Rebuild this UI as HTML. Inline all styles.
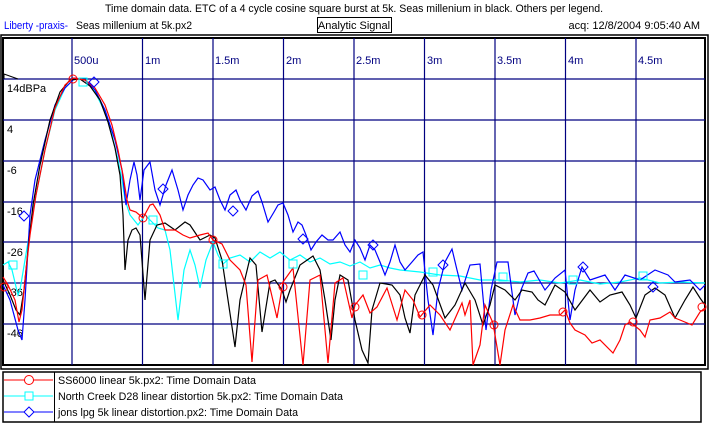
<!DOCTYPE html><html><head><style>body{margin:0;background:#fff}svg{display:block}text{font-family:"Liberation Sans",sans-serif;font-size:11px}</style></head><body>
<svg width="709" height="426" viewBox="0 0 709 426" xmlns="http://www.w3.org/2000/svg">
<rect width="709" height="426" fill="#fff"/>
<text x="354" y="12" text-anchor="middle" textLength="498" lengthAdjust="spacingAndGlyphs">Time domain data. ETC of a 4 cycle cosine square burst at 5k. Seas millenium in black. Others per legend.</text>
<text x="4" y="29" fill="#0000ff" textLength="64" lengthAdjust="spacingAndGlyphs">Liberty -praxis-</text>
<text x="76" y="29" textLength="116" lengthAdjust="spacingAndGlyphs">Seas millenium at 5k.px2</text>
<rect x="317.5" y="17.5" width="74" height="15" fill="none" stroke="#000"/>
<text x="354" y="29" text-anchor="middle">Analytic Signal</text>
<text x="700" y="29" text-anchor="end">acq: 12/8/2004 9:05:40 AM</text>
<rect x="1" y="35" width="707" height="334" fill="none" stroke="#000" stroke-width="1.5"/>
<rect x="3" y="38" width="702" height="327" fill="none" stroke="#000" stroke-width="2"/>
<g stroke="#000080" stroke-width="1.2">
<line x1="72" y1="38" x2="72" y2="365"/><line x1="142.5" y1="38" x2="142.5" y2="365"/><line x1="213" y1="38" x2="213" y2="365"/><line x1="283.5" y1="38" x2="283.5" y2="365"/><line x1="354" y1="38" x2="354" y2="365"/><line x1="424.5" y1="38" x2="424.5" y2="365"/><line x1="495" y1="38" x2="495" y2="365"/><line x1="565.5" y1="38" x2="565.5" y2="365"/><line x1="636" y1="38" x2="636" y2="365"/>
<line x1="3" y1="79" x2="705" y2="79"/><line x1="3" y1="120" x2="705" y2="120"/><line x1="3" y1="161" x2="705" y2="161"/><line x1="3" y1="202" x2="705" y2="202"/><line x1="3" y1="242" x2="705" y2="242"/><line x1="3" y1="283" x2="705" y2="283"/><line x1="3" y1="324" x2="705" y2="324"/>
</g>
<g fill="#000080"><text x="74" y="64">500u</text><text x="145" y="64">1m</text><text x="215" y="64">1.5m</text><text x="286" y="64">2m</text><text x="356" y="64">2.5m</text><text x="427" y="64">3m</text><text x="497" y="64">3.5m</text><text x="568" y="64">4m</text><text x="638" y="64">4.5m</text></g>
<g><text x="7" y="92">14dBPa</text><text x="7" y="133">4</text><text x="7" y="174">-6</text><text x="7" y="215">-16</text><text x="7" y="256">-26</text><text x="7" y="296">-36</text><text x="7" y="337">-46</text></g>
<path d="M4 74 L4 79 M4 74 L18 79" stroke="#000" fill="none"/>
<g fill="none" stroke-width="1.2">
<polyline stroke="#00ffff" points="3,265 8,262 12,270 18,295 20,290 25,260 30,230 35,200 45,150 55,110 65,88 75,78 85,80 95,92 105,112 112,135 118,160 122,180 125,200 130,215 138,225 145,215 150,220 158,228 165,230 170,250 178,320 184,270 190,250 195,265 200,288 206,260 213,242 218,255 223,264 230,258 240,255 250,262 260,252 270,258 280,252 290,260 300,255 310,262 320,258 330,264 340,262 350,266 360,262 370,268 380,265 390,268 400,270 420,272 440,275 460,276 480,280 500,280 520,282 540,280 560,283 580,280 600,284 620,282 640,278 660,283 680,282 705,283"/>
<polyline stroke="#0000ff" points="3,285 10,300 18,330 22,340 25,300 30,215 35,180 45,140 55,105 65,88 75,78 85,80 95,90 105,110 115,140 122,170 126,205 130,180 134,162 137,175 140,200 144,170 150,162 155,190 160,205 166,185 172,170 178,190 183,210 188,195 193,185 198,178 203,180 210,190 215,187 220,200 225,210 230,195 236,190 240,200 246,210 252,196 258,191 262,202 268,222 274,212 278,205 283,203 288,215 293,232 298,222 302,225 306,235 311,250 316,242 322,235 328,240 333,240 340,232 345,245 350,252 355,240 360,248 365,260 370,245 375,250 380,262 385,275 390,262 395,245 400,262 405,270 412,262 418,255 423,252 428,300 433,335 438,290 445,262 452,249 457,270 462,290 470,265 480,264 486,330 491,290 497,262 508,262 515,315 521,290 528,273 534,271 545,290 555,278 565,270 570,320 575,290 582,267 590,280 605,275 615,290 625,275 640,280 655,270 668,275 675,282 690,280 700,290 705,285"/>
<polyline stroke="#000000" points="3,280 10,295 16,310 20,315 24,290 28,250 33,205 40,165 50,120 60,92 70,80 80,79 90,86 100,100 108,122 115,148 120,175 123,215 125,270 128,240 132,230 136,228 140,235 145,300 150,240 157,225 165,223 175,230 185,222 190,225 200,240 210,235 215,238 222,260 228,300 235,347 240,300 250,258 256,265 262,332 270,282 275,280 282,290 286,302 290,290 300,265 313,256 320,270 325,300 331,340 335,300 340,275 348,280 355,320 362,350 368,363 372,310 380,283 392,285 400,295 405,318 410,333 415,295 425,275 433,285 445,318 455,305 465,283 475,300 483,325 490,305 495,285 505,290 515,300 522,290 532,292 538,300 545,305 555,285 565,292 575,310 590,290 600,302 610,295 622,292 630,305 636,318 645,295 655,288 665,295 675,318 685,300 693,287 700,298 705,305"/>
<polyline stroke="#ff0000" points="3,277 8,285 15,300 19,322 22,310 26,270 30,235 36,195 45,150 55,108 65,85 73,78 85,80 95,88 105,105 112,125 118,150 123,175 127,200 130,210 136,212 143,218 150,205 153,204 160,215 165,230 175,230 183,235 190,238 200,235 208,233 213,240 222,244 230,260 240,270 246,285 252,362 258,280 267,275 277,318 283,282 293,268 303,365 310,280 320,275 328,363 335,283 343,278 352,318 355,305 363,295 370,313 377,307 387,288 397,320 405,290 413,300 420,317 430,305 440,315 450,330 462,303 465,315 470,300 473,365 480,345 485,305 493,323 500,365 505,330 513,305 520,320 530,320 540,318 550,315 560,315 565,310 570,323 575,330 585,335 592,343 600,340 613,353 620,340 625,325 630,322 640,330 645,337 650,320 660,318 670,312 675,318 680,320 692,325 700,312 705,308"/>
</g>
<g fill="none" stroke="#ff0000"><circle cx="4" cy="287" r="4"/><circle cx="73" cy="79" r="4"/><circle cx="143" cy="218" r="4"/><circle cx="213" cy="240" r="4"/><circle cx="283" cy="287" r="4"/><circle cx="355" cy="307" r="4"/><circle cx="422" cy="315" r="4"/><circle cx="494" cy="325" r="4"/><circle cx="563" cy="312" r="4"/><circle cx="633" cy="322" r="4"/><circle cx="702" cy="307" r="4"/></g>
<g fill="none" stroke="#00ffff"><rect x="9" y="261" width="8" height="8"/><rect x="79" y="78" width="8" height="8"/><rect x="149" y="216" width="8" height="8"/><rect x="219" y="260" width="8" height="8"/><rect x="289" y="260" width="8" height="8"/><rect x="359" y="271" width="8" height="8"/><rect x="429" y="268" width="8" height="8"/><rect x="499" y="273" width="8" height="8"/><rect x="569" y="276" width="8" height="8"/><rect x="639" y="272" width="8" height="8"/></g>
<g fill="none" stroke="#0000ff"><path d="M24 211l5 5-5 5-5-5z"/><path d="M94 77l5 5-5 5-5-5z"/><path d="M163 184l5 5-5 5-5-5z"/><path d="M233 206l5 5-5 5-5-5z"/><path d="M303 234l5 5-5 5-5-5z"/><path d="M373 240l5 5-5 5-5-5z"/><path d="M443 260l5 5-5 5-5-5z"/><path d="M583 262l5 5-5 5-5-5z"/><path d="M653 282l5 5-5 5-5-5z"/></g>
<rect x="3" y="372" width="698" height="50" fill="none" stroke="#000" stroke-width="1.5"/>
<line x1="54.5" y1="372" x2="54.5" y2="422" stroke="#000"/>
<line x1="4" y1="380" x2="53" y2="380" stroke="#ff0000"/><circle cx="29" cy="380" r="4.5" fill="#fff" stroke="#ff0000"/>
<line x1="4" y1="396" x2="53" y2="396" stroke="#00ffff"/><rect x="25" y="392" width="8" height="8" fill="#fff" stroke="#00ffff"/>
<line x1="4" y1="412" x2="53" y2="412" stroke="#0000ff"/><path d="M29 407l5 5-5 5-5-5z" fill="#fff" stroke="#0000ff"/>
<text x="58" y="384" textLength="198" lengthAdjust="spacingAndGlyphs">SS6000 linear 5k.px2:  Time Domain Data</text>
<text x="58" y="400" textLength="285" lengthAdjust="spacingAndGlyphs">North Creek D28 linear distortion 5k.px2:  Time Domain Data</text>
<text x="58" y="416" textLength="240" lengthAdjust="spacingAndGlyphs">jons lpg 5k linear distortion.px2:  Time Domain Data</text>
</svg></body></html>
